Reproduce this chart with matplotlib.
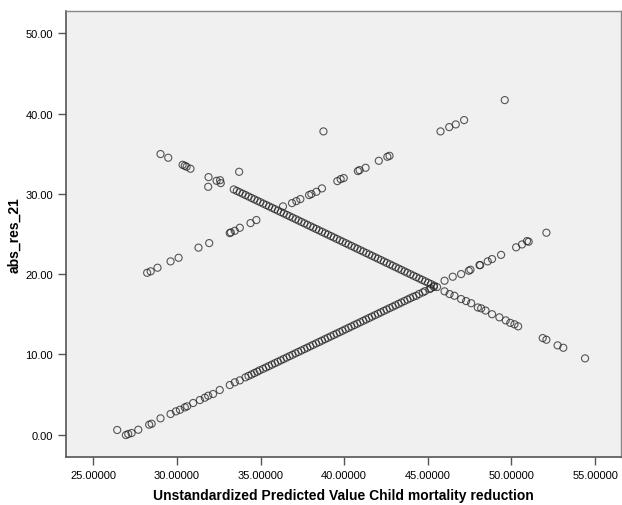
import matplotlib
matplotlib.use("Agg")
import matplotlib.pyplot as plt
from matplotlib.ticker import FormatStrFormatter

plt.rcParams['font.family'] = ['Liberation Sans', 'DejaVu Sans']

# lower rising band (residuals around actual value ~27)
low_x = [26.43, 26.95, 27.09, 27.29, 27.69, 28.34, 28.49, 29.02, 29.62, 29.94,
         30.18, 30.47, 30.61, 30.97, 31.37, 31.67, 31.87, 32.16, 32.56, 33.16,
         33.46, 33.76, 34.10, 34.28, 34.46, 34.63, 34.80, 34.95, 35.15, 35.33,
         35.50, 35.68, 35.86, 36.03, 36.21, 36.38, 36.56, 36.74, 36.91, 37.09,
         37.26, 37.44, 37.62, 37.79, 37.97, 38.14, 38.32, 38.50, 38.67, 38.85,
         39.02, 39.20, 39.38, 39.55, 39.73, 39.90, 40.08, 40.26, 40.43, 40.61,
         40.78, 40.96, 41.14, 41.31, 41.49, 41.66, 41.84, 42.02, 42.19, 42.37,
         42.54, 42.72, 42.90, 43.07, 43.25, 43.42, 43.60, 43.78, 43.95, 44.13,
         44.31, 44.48, 44.70, 44.83, 45.10, 45.18, 45.36, 46.00, 46.49, 46.99,
         47.45, 47.55, 48.09, 48.13, 48.58, 48.84, 49.38, 50.28, 50.63, 50.93,
         51.03, 52.09]
low_y = [0.59, -0.04, 0.09, 0.21, 0.62, 1.25, 1.37, 2.04, 2.58, 2.91,
         3.11, 3.41, 3.54, 3.95, 4.32, 4.61, 4.86, 5.07, 5.57, 6.19,
         6.53, 6.77, 7.15, 7.33, 7.50, 7.68, 7.85, 8.02, 8.20, 8.38,
         8.55, 8.73, 8.91, 9.08, 9.26, 9.43, 9.61, 9.79, 9.96, 10.14,
         10.31, 10.49, 10.67, 10.84, 11.02, 11.19, 11.37, 11.55, 11.72, 11.90,
         12.07, 12.25, 12.43, 12.60, 12.78, 12.95, 13.13, 13.31, 13.48, 13.66,
         13.83, 14.01, 14.19, 14.36, 14.54, 14.71, 14.89, 15.07, 15.24, 15.42,
         15.59, 15.77, 15.95, 16.12, 16.30, 16.47, 16.65, 16.83, 17.00, 17.18,
         17.31, 17.53, 17.73, 17.88, 18.14, 18.23, 18.41, 19.18, 19.68, 20.01,
         20.42, 20.55, 21.13, 21.13, 21.59, 21.88, 22.40, 23.34, 23.70, 24.12,
         24.04, 25.16]

# falling band (residuals around actual value ~64)
fall_x = [29.02, 29.48, 30.34, 30.47, 30.58, 30.81, 31.89, 32.37, 32.58, 32.62,
          33.40, 33.58, 33.75, 33.93, 34.10, 34.28, 34.46, 34.63, 34.81, 34.98,
          35.16, 35.34, 35.51, 35.69, 35.86, 36.04, 36.22, 36.39, 36.57, 36.74,
          36.92, 37.10, 37.27, 37.45, 37.62, 37.80, 37.98, 38.15, 38.33, 38.50,
          38.68, 38.86, 39.03, 39.21, 39.38, 39.56, 39.74, 39.91, 40.09, 40.26,
          40.44, 40.62, 40.79, 40.97, 41.14, 41.32, 41.50, 41.67, 41.85, 42.02,
          42.20, 42.38, 42.55, 42.73, 42.90, 43.08, 43.26, 43.43, 43.61, 43.78,
          43.96, 44.14, 44.31, 44.49, 44.66, 44.84, 45.02, 45.19, 45.37, 45.55,
          46.00, 46.30, 46.59, 46.99, 47.29, 47.59, 47.99, 48.19, 48.45, 48.84,
          49.28, 49.66, 49.93, 50.18, 50.40, 51.87, 52.09, 52.76, 53.10, 54.40]
fall_y = [34.96, 34.50, 33.62, 33.50, 33.38, 33.13, 32.09, 31.63, 31.70, 31.34,
          30.55, 30.37, 30.20, 30.02, 29.85, 29.67, 29.49, 29.32, 29.14, 28.97,
          28.79, 28.61, 28.44, 28.26, 28.09, 27.91, 27.73, 27.56, 27.38, 27.21,
          27.03, 26.85, 26.68, 26.50, 26.33, 26.15, 25.97, 25.80, 25.62, 25.45,
          25.27, 25.09, 24.92, 24.74, 24.57, 24.39, 24.21, 24.04, 23.86, 23.69,
          23.51, 23.33, 23.16, 22.98, 22.81, 22.63, 22.45, 22.28, 22.10, 21.93,
          21.75, 21.57, 21.40, 21.22, 21.05, 20.87, 20.69, 20.52, 20.34, 20.17,
          19.99, 19.81, 19.64, 19.46, 19.29, 19.11, 18.93, 18.76, 18.58, 18.40,
          17.86, 17.52, 17.31, 16.90, 16.65, 16.38, 15.85, 15.74, 15.47, 15.01,
          14.62, 14.24, 13.93, 13.75, 13.50, 12.04, 11.83, 11.13, 10.83, 9.51]

# upper rising band (residuals around actual value ~8)
up_x = [28.22, 28.43, 28.84, 29.62, 30.10, 31.29, 31.93, 33.16, 33.22, 33.46,
        33.76, 34.40, 34.75, 36.34, 36.88, 37.14, 37.38, 37.90, 38.04, 38.34,
        38.67, 39.59, 39.79, 39.97, 40.82, 40.92, 41.28, 42.07, 42.58, 42.71,
        45.76, 46.28, 46.67, 47.17, 49.60]
up_y = [20.17, 20.35, 20.80, 21.59, 22.04, 23.30, 23.87, 25.12, 25.20, 25.40,
        25.78, 26.36, 26.74, 28.44, 28.85, 29.10, 29.35, 29.85, 29.98, 30.26,
        30.68, 31.59, 31.84, 31.97, 32.84, 32.96, 33.25, 34.12, 34.62, 34.74,
        37.78, 38.32, 38.65, 39.19, 41.68]

# a few residuals off the three bands
other_x = [31.87, 33.72, 38.76]
other_y = [30.88, 32.75, 37.78]

x_ticks = [25, 30, 35, 40, 45, 50, 55]
y_ticks = [0, 10, 20, 30, 40, 50]

fig = plt.figure(figsize=(6.22, 5.06), dpi=100)
ax = fig.add_axes([0.1056, 0.0943, 0.8928, 0.8814])
ax.set_facecolor('#f0f0f0')

for xs, ys in [(low_x, low_y), (fall_x, fall_y), (up_x, up_y), (other_x, other_y)]:
    ax.scatter(xs, ys, s=26, facecolors='none', edgecolors='#222222',
               linewidths=0.8, alpha=0.75, zorder=3)

ax.set_xlim(23.35, 56.55)
ax.set_ylim(-2.81, 52.74)
ax.set_xticks(x_ticks)
ax.set_yticks(y_ticks)
ax.xaxis.set_major_formatter(FormatStrFormatter('%.5f'))
ax.yaxis.set_major_formatter(FormatStrFormatter('%.2f'))
ax.tick_params(axis='both', direction='out', length=6, width=1,
               color='#555555', labelsize=8, pad=3)

for side in ['left', 'bottom']:
    ax.spines[side].set_color('#555555')
    ax.spines[side].set_linewidth(1.2)
for side in ['top', 'right']:
    ax.spines[side].set_color('#888888')
    ax.spines[side].set_linewidth(1.0)

ax.set_xlabel('Unstandardized Predicted Value Child mortality reduction',
              fontsize=10, fontweight='bold', labelpad=6)
ax.set_ylabel('abs_res_21', fontsize=10, fontweight='bold', labelpad=3)

fig.savefig('out.png', dpi=100)
